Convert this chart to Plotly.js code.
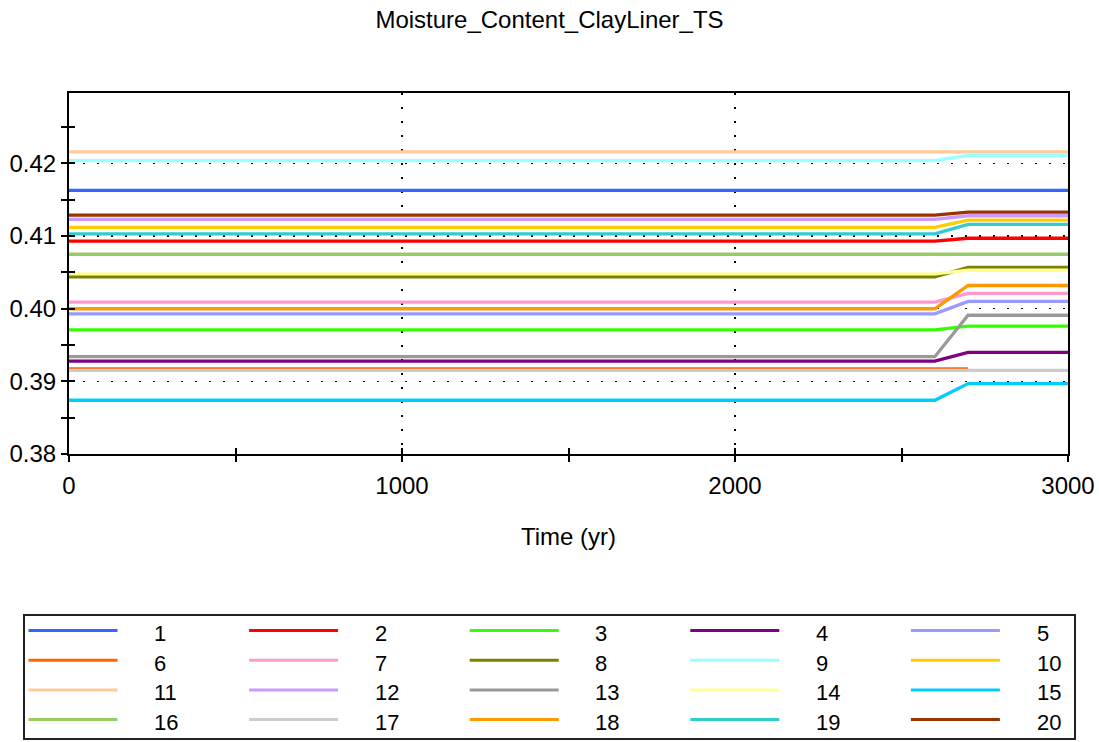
<!DOCTYPE html>
<html>
<head>
<meta charset="utf-8">
<script src="https://cdn.plot.ly/plotly-3.0.1.min.js"></script>
<style>html,body{margin:0;padding:0;background:#fff;}#chart{width:1099px;height:742px;}</style>
</head>
<body>
<div id="chart"></div>
<script>
// ---- data ----
const timeYr = [0, 2600, 2700, 3000];
const seriesNames = ['1','2','3','4','5','6','7','8','9','10','11','12','13','14','15','16','17','18','19','20'];
const seriesColors = ['#3366FF','#FF0000','#33FF00','#800080','#9999FF','#FF6600','#FF99CC','#808000','#99FFFF','#FFCC00',
                      '#FFCC99','#CC99FF','#999999','#FFFF99','#00CCFF','#99CC66','#CCCCCC','#FF9900','#33CCCC','#993300'];
const mc1  = [0.4163, 0.4163, 0.4163, 0.4163];
const mc2  = [0.4093, 0.4093, 0.4097, 0.4097];
const mc3  = [0.3971, 0.3971, 0.3976, 0.3976];
const mc4  = [0.3928, 0.3928, 0.3940, 0.3940];
const mc5  = [0.3993, 0.3993, 0.4010, 0.4010];
const mc6  = [0.3917, 0.3917, 0.3917, null];
const mc7  = [0.4009, 0.4009, 0.4021, 0.4021];
const mc8  = [0.4044, 0.4044, 0.4057, 0.4057];
const mc9  = [0.4204, 0.4204, 0.4211, 0.4211];
const mc10 = [0.4112, 0.4112, 0.4122, 0.4122];
const mc11 = [0.4216, 0.4216, 0.4216, 0.4216];
const mc12 = [0.4123, 0.4123, 0.4128, 0.4128];
const mc13 = [0.3934, 0.3934, 0.3991, 0.3991];
const mc14 = [0.4048, 0.4048, 0.4053, 0.4053];
const mc15 = [0.3874, 0.3874, 0.3897, 0.3897];
const mc16 = [0.4075, 0.4075, 0.4075, 0.4075];
const mc17 = [0.3915, 0.3915, 0.3915, 0.3915];
const mc18 = [0.4000, 0.4000, 0.4032, 0.4032];
const mc19 = [0.4103, 0.4103, 0.4116, 0.4116];
const mc20 = [0.4129, 0.4129, 0.4133, 0.4133];
const seriesValues = [mc1,mc2,mc3,mc4,mc5,mc6,mc7,mc8,mc9,mc10,mc11,mc12,mc13,mc14,mc15,mc16,mc17,mc18,mc19,mc20];
const xTickVals = [0, 1000, 2000, 3000];
const yTickVals = [0.38, 0.39, 0.40, 0.41, 0.42];
const yTickText = ['0.38', '0.39', '0.40', '0.41', '0.42'];
const xRange = [0, 3000];
const yRange = [0.38, 0.4297];

// ---- layout geometry ----
const W = 1099, H = 742;
const M = {l: 69, r: 31, t: 93, b: 288};
const plotW = W - M.l - M.r, plotH = H - M.t - M.b;
const px2x = p => (p - M.l) / plotW;
const px2y = p => (H - M.b - p) / plotH;
const FONT = 'Liberation Sans, Arial, sans-serif';

const traces = seriesValues.map((vals, i) => ({
  type: 'scatter', mode: 'lines', x: timeYr, y: vals, name: seriesNames[i],
  line: {color: seriesColors[i], width: 3.3}, connectgaps: false, showlegend: false,
  hoverinfo: 'x+y+name'
}));
// empty helper trace so the overlaid tick-only axes (inner half of crossing ticks) get drawn
traces.push({type: 'scatter', mode: 'lines', x: [null], y: [null], xaxis: 'x2', yaxis: 'y2', showlegend: false, hoverinfo: 'skip'});

// custom legend (5 columns, row-major) built from names & colours
const shapes = [];
const annotations = [];
shapes.push({type: 'rect', xref: 'paper', yref: 'paper', x0: px2x(24), x1: px2x(1075), y0: px2y(615), y1: px2y(739),
             line: {color: '#222', width: 2}, fillcolor: 'rgba(0,0,0,0)'});
seriesNames.forEach((nm, i) => {
  const col = i % 5, row = Math.floor(i / 5);
  const lx = 28.5 + col * 220.6, ly = 630.5 + row * 29.7;
  shapes.push({type: 'line', xref: 'paper', yref: 'paper', x0: px2x(lx), x1: px2x(lx + 89), y0: px2y(ly), y1: px2y(ly),
               line: {color: seriesColors[i], width: 3}});
  annotations.push({xref: 'paper', yref: 'paper', x: px2x(152 + col * 220.7), y: px2y(ly + 3), text: nm,
                    xanchor: 'left', yanchor: 'middle', showarrow: false, font: {family: FONT, size: 22, color: '#000'}});
});

const layout = {
  width: W, height: H, margin: M, paper_bgcolor: '#fff', plot_bgcolor: '#fff',
  font: {family: FONT, color: '#000', size: 24},
  title: {text: 'Moisture_Content_ClayLiner_TS', font: {family: FONT, size: 24, color: '#000'},
          x: 0.5, xref: 'container', y: 1 - 20 / H, yref: 'container', yanchor: 'middle', xanchor: 'center'},
  showlegend: false,
  xaxis: {range: xRange, tickmode: 'array', tickvals: xTickVals, ticks: 'outside', ticklen: 6, tickwidth: 2, tickcolor: '#000',
          minor: {dtick: 500, tick0: 0, ticks: 'outside', ticklen: 6, tickwidth: 2, tickcolor: '#000', showgrid: false},
          showgrid: true, gridcolor: '#000', gridwidth: 1.5, griddash: '2px,12px',
          showline: true, linecolor: '#000', linewidth: 2, mirror: true, zeroline: false,
          tickfont: {family: FONT, size: 24, color: '#000'}, automargin: false, ticklabelstandoff: 3,
          title: {text: 'Time (yr)', font: {family: FONT, size: 24, color: '#000'}, standoff: 30}},
  yaxis: {range: yRange, tickmode: 'array', tickvals: yTickVals, ticktext: yTickText, ticks: 'outside', ticklen: 6, tickwidth: 2, tickcolor: '#000',
          minor: {dtick: 0.005, tick0: 0.38, ticks: 'outside', ticklen: 6, tickwidth: 2, tickcolor: '#000', showgrid: false},
          showgrid: true, gridcolor: '#000', gridwidth: 1.5, griddash: '2px,12px',
          showline: true, linecolor: '#000', linewidth: 2, mirror: true, zeroline: false,
          tickfont: {family: FONT, size: 24, color: '#000'}, automargin: false},
  xaxis2: {overlaying: 'x', anchor: 'y2', range: xRange, tickmode: 'linear', dtick: 500, tick0: 0, ticks: 'inside', ticklen: 6, tickwidth: 2, tickcolor: '#000',
           showticklabels: false, showgrid: false, zeroline: false, showline: false, side: 'bottom', fixedrange: true},
  yaxis2: {overlaying: 'y', anchor: 'x2', range: yRange, tickmode: 'linear', dtick: 0.005, tick0: 0.38, ticks: 'inside', ticklen: 6, tickwidth: 2, tickcolor: '#000',
           showticklabels: false, showgrid: false, zeroline: false, showline: false, side: 'left', fixedrange: true},
  shapes: shapes, annotations: annotations
};

Plotly.newPlot('chart', traces, layout, {displayModeBar: false, staticPlot: true});
</script>
</body>
</html>
